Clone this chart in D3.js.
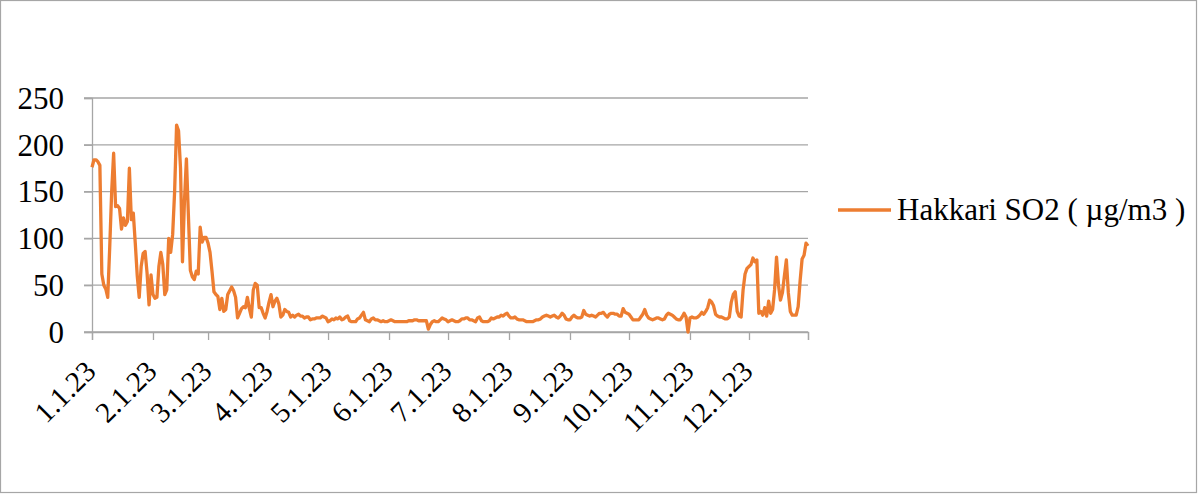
<!DOCTYPE html>
<html>
<head>
<meta charset="utf-8">
<script src="https://cdn.jsdelivr.net/npm/d3@7"></script>
<style>
  body { margin: 0; background: #fff; }
  text { font-family: "Liberation Serif", "Times New Roman", serif; fill: #000; }
</style>
</head>
<body>
<script>
// data
var startDate = "2023-01-01";
var seriesName = "Hakkari SO2 ( µg/m3 )";
var yTicks = [0, 50, 100, 150, 200, 250];
var tickLabels = ["1.1.23", "2.1.23", "3.1.23", "4.1.23", "5.1.23", "6.1.23",
                  "7.1.23", "8.1.23", "9.1.23", "10.1.23", "11.1.23", "12.1.23"];

// daily values, Jan 1 .. Dec 31
var jan = [176,184,184,182,178,62,50,46,37,90,150,191,134,135,132,110,122,114,118,175,120,127,95,60,37,70,84,86,63,29,61];
var feb = [40,36,37,70,85,72,40,45,100,85,104,150,221,215,175,75,140,185,125,66,59,56,65,62,112,96,101,101];
var mar = [95,85,65,43,40,38,24,36,22,24,40,44,48,44,37,15,20,25,27,26,37,25,16,45,52,50,26,26,20,15,22];
var apr = [32,40,27,33,36,30,16,18,24,22,21,16,18,16,18,19,17,17,15,16,16,13,14,14,15,15,15,17,16,15];
var may = [11,12,14,13,15,14,16,13,14,16,17,12,11,11,11,14,15,18,21,13,12,11,14,15,13,13,12,11,12,11,11];
var jun = [12,13,12,11,11,11,11,11,11,11,12,12,12,13,13,12,12,12,12,12,3,8,11,12,11,11,13,15,14,13];
var jul = [11,12,13,12,11,11,12,14,14,15,15,13,13,12,11,15,16,12,11,11,11,12,15,14,15,16,16,18,17,19,20];
var aug = [17,15,15,16,14,13,13,13,12,11,11,11,11,12,13,13,14,16,17,18,17,16,17,18,16,15,17,20,18,14,13];
var sep = [13,16,18,16,15,15,16,23,19,18,17,18,17,16,18,20,20,21,18,16,19,20,20,19,19,17,17,25,21,20];
var oct = [19,16,13,13,13,13,16,19,24,18,15,14,13,14,15,15,14,13,14,18,20,19,18,16,14,13,13,16,20,16,0];
var nov = [15,16,15,15,16,18,21,19,22,26,34,32,28,19,17,16,16,15,14,14,16,32,40,43,22,17,16,45,62,68];
var dec = [70,72,79,75,77,20,22,18,26,17,33,20,24,45,80,50,34,42,60,77,42,22,18,18,18,27,55,78,82,95,92];

var so2 = [].concat(jan, feb, mar, apr, may, jun, jul, aug, sep, oct, nov, dec);

var parseDate = d3.timeParse("%Y-%m-%d");
var t0 = parseDate(startDate);
var data = so2.map((v, i) => ({date: d3.timeDay.offset(t0, i), value: v}));

// graph
var W = 1199, H = 495,
    margin = {top: 98, right: 391, bottom: 163, left: 92},
    width = W - margin.left - margin.right,
    height = H - margin.top - margin.bottom;

var root = d3.select("body").append("svg")
    .attr("width", W)
    .attr("height", H);

root.append("rect")
    .attr("x", 0.5).attr("y", 0.5)
    .attr("width", W - 3).attr("height", H - 3)
    .attr("fill", "#fff")
    .attr("stroke", "#a6a6a6")
    .attr("stroke-width", 1.2);

var svg = root.append("g")
    .attr("transform", "translate(" + margin.left + "," + margin.top + ")");

// scales
var x = d3.scaleTime()
    .domain([data[0].date, data[data.length - 1].date])
    .range([0, width]);

var y = d3.scaleLinear()
    .domain([0, 250])
    .range([height, 0]);

// grid
svg.append("g")
    .attr("class", "grid")
    .selectAll("line")
    .data(yTicks)
  .enter().append("line")
    .attr("x1", -8).attr("x2", width)
    .attr("y1", d => y(d)).attr("y2", d => y(d))
    .attr("stroke", "#a6a6a6")
    .attr("stroke-width", 1.3);

// y axis
var yAxis = svg.append("g")
    .call(d3.axisLeft(y).tickValues(yTicks).tickSize(8).tickPadding(20))
    .attr("class", "y axis");
yAxis.select(".domain").attr("stroke", "#a6a6a6").attr("stroke-width", 1.3);
yAxis.selectAll(".tick line").attr("stroke", "#a6a6a6").attr("stroke-width", 1.3);
yAxis.selectAll("text")
    .style("font-size", "31px")
    .attr("dy", "0.33em");

// x axis
var monthTicks = d3.timeMonth.range(data[0].date, data[data.length - 1].date);
var xAxis = svg.append("g")
    .attr("class", "x axis")
    .attr("transform", "translate(0," + height + ")")
    .call(d3.axisBottom(x)
      .tickValues(monthTicks.concat([data[data.length - 1].date]))
      .tickSize(8)
      .tickFormat((d, i) => tickLabels[i] || ""));
xAxis.select(".domain").attr("stroke", "#a6a6a6").attr("stroke-width", 1.3);
xAxis.selectAll(".tick line").attr("stroke", "#a6a6a6").attr("stroke-width", 1.3);
xAxis.selectAll("text")
    .style("font-size", "29px")
    .attr("text-anchor", "end")
    .attr("dy", null)
    .attr("y", 0)
    .attr("transform", "translate(5,41) rotate(-45)");

// line
var line = d3.line()
    .x(d => x(d.date))
    .y(d => y(d.value));

svg.append("path")
    .datum(data)
    .attr("d", line)
    .attr("fill", "none")
    .attr("stroke", "#ed7d31")
    .attr("stroke-width", 3.3)
    .attr("stroke-linejoin", "round");

// legend
var legend = root.append("g")
    .attr("transform", "translate(838,210)");
legend.append("line")
    .attr("x1", 0).attr("x2", 53)
    .attr("stroke", "#ed7d31")
    .attr("stroke-width", 3.3);
legend.append("text")
    .attr("x", 59)
    .attr("y", 10)
    .style("font-size", "31px")
    .text(seriesName);
</script>
</body>
</html>
